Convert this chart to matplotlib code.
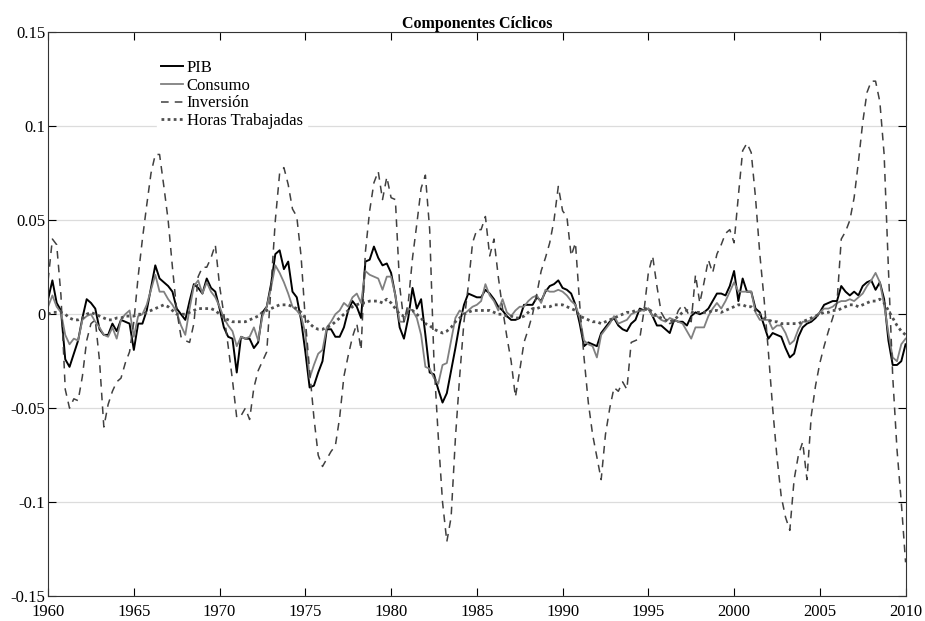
import numpy as np
import matplotlib
matplotlib.use("Agg")
import matplotlib.pyplot as plt
from matplotlib.ticker import FuncFormatter

plt.rcParams['font.family'] = ['Liberation Serif', 'DejaVu Serif']
plt.rcParams['axes.unicode_minus'] = False

# quarterly cyclical components, 1960Q1 .. 2010Q1 (one row per year)
pib = [
    0.008, 0.018, 0.006, 0.002,
    -0.024, -0.028, -0.021, -0.014,
    -0.002, 0.008, 0.006, 0.003,
    -0.008, -0.011, -0.011, -0.005,
    -0.009, -0.003, -0.004, -0.005,
    -0.019, -0.005, -0.005, 0.002,
    0.014, 0.026, 0.019, 0.017,
    0.015, 0.012, 0.003, 0.000,
    -0.003, 0.007, 0.016, 0.014,
    0.011, 0.019, 0.014, 0.012,
    0.003, -0.007, -0.012, -0.013,
    -0.031, -0.012, -0.013, -0.013,
    -0.018, -0.015, 0.001, 0.004,
    0.016, 0.032, 0.034, 0.024,
    0.028, 0.012, 0.009, -0.003,
    -0.020, -0.039, -0.038, -0.031,
    -0.025, -0.008, -0.008, -0.012,
    -0.012, -0.007, 0.002, 0.007,
    0.004, -0.002, 0.028, 0.029,
    0.036, 0.030, 0.026, 0.027,
    0.022, 0.010, -0.007, -0.013,
    -0.002, 0.014, 0.003, 0.008,
    -0.011, -0.031, -0.032, -0.040,
    -0.047, -0.042, -0.030, -0.018,
    -0.005, 0.005, 0.011, 0.010,
    0.009, 0.009, 0.013, 0.011,
    0.008, 0.004, 0.002, -0.001,
    -0.003, -0.003, -0.002, 0.005,
    0.005, 0.005, 0.009, 0.007,
    0.012, 0.015, 0.016, 0.018,
    0.014, 0.013, 0.011, 0.005,
    -0.005, -0.017, -0.015, -0.016,
    -0.017, -0.010, -0.007, -0.004,
    -0.002, -0.006, -0.008, -0.009,
    -0.005, -0.003, 0.003, 0.002,
    0.003, -0.001, -0.006, -0.006,
    -0.008, -0.010, -0.003, -0.004,
    -0.004, -0.006, -0.001, 0.001,
    0.000, 0.001, 0.003, 0.007,
    0.011, 0.011, 0.010, 0.015,
    0.023, 0.007, 0.019, 0.012,
    0.012, 0.003, 0.001, -0.006,
    -0.013, -0.010, -0.011, -0.012,
    -0.018, -0.023, -0.021, -0.012,
    -0.007, -0.005, -0.004, -0.002,
    0.001, 0.005, 0.006, 0.007,
    0.007, 0.015, 0.012, 0.010,
    0.012, 0.010, 0.015, 0.017,
    0.018, 0.013, 0.017, 0.008,
    -0.014, -0.027, -0.027, -0.025,
    -0.016,
]

consumo = [
    0.004, 0.010, 0.004, 0.001,
    -0.011, -0.016, -0.013, -0.014,
    -0.003, -0.001, 0.000, -0.004,
    -0.007, -0.011, -0.012, -0.007,
    -0.013, -0.003, 0.000, 0.002,
    -0.012, -0.001, 0.000, 0.005,
    0.013, 0.021, 0.012, 0.012,
    0.008, 0.005, 0.001, -0.006,
    -0.011, 0.003, 0.015, 0.018,
    0.011, 0.017, 0.012, 0.009,
    0.004, -0.002, -0.006, -0.009,
    -0.017, -0.012, -0.013, -0.012,
    -0.007, -0.014, -0.001, 0.004,
    0.014, 0.026, 0.022, 0.017,
    0.011, 0.004, 0.002, -0.001,
    -0.010, -0.034, -0.027, -0.021,
    -0.019, -0.007, -0.004, 0.000,
    0.002, 0.006, 0.004, 0.009,
    0.011, 0.006, 0.023, 0.021,
    0.020, 0.019, 0.013, 0.020,
    0.020, 0.010, -0.004, -0.004,
    0.003, 0.002, -0.002, -0.011,
    -0.028, -0.029, -0.034, -0.037,
    -0.027, -0.026, -0.014, -0.002,
    0.002, 0.000, 0.002, 0.004,
    0.005, 0.007, 0.016, 0.010,
    0.007, 0.002, 0.008, 0.001,
    -0.001, 0.002, 0.004, 0.004,
    0.007, 0.009, 0.010, 0.006,
    0.013, 0.012, 0.012, 0.013,
    0.012, 0.010, 0.007, 0.005,
    -0.002, -0.014, -0.016, -0.017,
    -0.023, -0.011, -0.008, -0.005,
    -0.001, -0.005, -0.004, -0.003,
    0.000, 0.001, 0.002, 0.002,
    0.003, -0.001, -0.001, -0.003,
    -0.004, -0.002, -0.003, -0.004,
    -0.005, -0.009, -0.013, -0.007,
    -0.007, -0.007, -0.001, 0.003,
    0.006, 0.003, 0.007, 0.012,
    0.017, 0.012, 0.012, 0.012,
    0.012, 0.001, -0.003, -0.003,
    -0.003, -0.008, -0.006, -0.006,
    -0.010, -0.016, -0.014, -0.008,
    -0.004, -0.004, -0.003, -0.001,
    0.001, 0.003, 0.003, 0.004,
    0.006, 0.007, 0.007, 0.008,
    0.007, 0.009, 0.011, 0.015,
    0.018, 0.022, 0.017, 0.005,
    -0.010, -0.023, -0.025, -0.016,
    -0.013,
]

inversion = [
    0.018, 0.040, 0.037, 0.010,
    -0.040, -0.050, -0.045, -0.046,
    -0.033, -0.014, -0.005, -0.003,
    -0.025, -0.060, -0.048, -0.041,
    -0.036, -0.034, -0.026, -0.020,
    -0.004, 0.020, 0.040, 0.058,
    0.075, 0.085, 0.085, 0.068,
    0.050, 0.025, 0.002, -0.012,
    -0.014, -0.015, -0.005, 0.020,
    0.025, 0.025, 0.030, 0.037,
    0.015, 0.000, -0.017, -0.035,
    -0.055, -0.054, -0.050, -0.056,
    -0.039, -0.030, -0.025, -0.020,
    0.015, 0.050, 0.075, 0.078,
    0.069, 0.056, 0.052, 0.031,
    -0.003, -0.030, -0.055, -0.075,
    -0.081, -0.077, -0.073, -0.070,
    -0.055, -0.033, -0.022, -0.012,
    -0.005, -0.019, 0.033, 0.055,
    0.070, 0.076, 0.061, 0.073,
    0.062, 0.061, 0.015, -0.004,
    0.006, 0.030, 0.048, 0.067,
    0.074, 0.045, -0.025, -0.065,
    -0.100, -0.121, -0.108, -0.066,
    -0.033, -0.004, 0.015, 0.038,
    0.045, 0.045, 0.052, 0.031,
    0.040, 0.020, 0.003, -0.012,
    -0.025, -0.044, -0.030, -0.015,
    -0.008, 0.000, 0.011, 0.023,
    0.030, 0.038, 0.050, 0.068,
    0.055, 0.052, 0.031, 0.038,
    0.005, -0.023, -0.047, -0.064,
    -0.076, -0.088, -0.064, -0.050,
    -0.039, -0.041, -0.036, -0.040,
    -0.015, -0.014, -0.013, 0.002,
    0.022, 0.031, 0.015, 0.001,
    -0.003, -0.005, -0.004, 0.002,
    0.005, 0.002, -0.004, 0.021,
    0.006, 0.017, 0.029, 0.022,
    0.032, 0.037, 0.043, 0.045,
    0.038, 0.063, 0.087, 0.091,
    0.086, 0.062, 0.032, 0.008,
    -0.020, -0.050, -0.076, -0.097,
    -0.108, -0.115, -0.088, -0.075,
    -0.068, -0.088, -0.054, -0.038,
    -0.026, -0.017, -0.009, -0.002,
    0.006, 0.040, 0.044, 0.050,
    0.062, 0.081, 0.102, 0.118,
    0.124, 0.124, 0.113, 0.085,
    0.024, -0.033, -0.072, -0.100,
    -0.132,
]

horas = [
    0.000, 0.001, 0.001, 0.001,
    0.000, -0.002, -0.003, -0.003,
    -0.002, 0.000, 0.001, 0.000,
    -0.001, -0.002, -0.003, -0.003,
    -0.002, -0.002, -0.001, -0.001,
    -0.001, 0.000, 0.000, 0.001,
    0.002, 0.003, 0.004, 0.005,
    0.004, 0.002, 0.000, 0.000,
    0.000, 0.001, 0.002, 0.003,
    0.003, 0.003, 0.003, 0.002,
    0.000, -0.002, -0.003, -0.004,
    -0.004, -0.004, -0.004, -0.003,
    -0.002, -0.001, 0.001, 0.002,
    0.003, 0.004, 0.005, 0.005,
    0.005, 0.004, 0.003, 0.001,
    -0.002, -0.005, -0.007, -0.008,
    -0.008, -0.007, -0.006, -0.004,
    -0.002, 0.000, 0.002, 0.004,
    0.005, 0.006, 0.006, 0.007,
    0.007, 0.007, 0.006, 0.008,
    0.006, 0.003, 0.000, -0.001,
    0.001, 0.002, 0.000, -0.002,
    -0.005, -0.006, -0.008, -0.009,
    -0.010, -0.009, -0.007, -0.004,
    -0.002, 0.000, 0.001, 0.002,
    0.002, 0.002, 0.002, 0.002,
    0.001, 0.000, 0.000, -0.001,
    -0.001, -0.002, -0.002, -0.001,
    0.001, 0.003, 0.003, 0.004,
    0.004, 0.004, 0.005, 0.005,
    0.005, 0.004, 0.003, 0.002,
    -0.001, -0.002, -0.003, -0.004,
    -0.004, -0.005, -0.004, -0.003,
    -0.002, -0.001, 0.000, 0.001,
    0.001, 0.002, 0.002, 0.003,
    0.003, 0.001, -0.001, -0.002,
    -0.003, -0.004, -0.003, -0.001,
    0.001, 0.002, 0.001, 0.001,
    0.001, 0.001, 0.001, 0.002,
    0.002, 0.001, 0.002, 0.003,
    0.004, 0.005, 0.005, 0.004,
    0.004, 0.002, 0.000, -0.002,
    -0.003, -0.004, -0.004, -0.005,
    -0.005, -0.005, -0.005, -0.005,
    -0.004, -0.003, -0.002, -0.001,
    0.000, 0.001, 0.001, 0.002,
    0.002, 0.003, 0.004, 0.005,
    0.005, 0.004, 0.005, 0.006,
    0.007, 0.007, 0.008, 0.006,
    0.002, -0.002, -0.006, -0.009,
    -0.011,
]

fechas = 1960 + np.arange(len(pib)) / 4.0
x_ticks = np.arange(1960, 2011, 5)
y_ticks = [-0.15, -0.1, -0.05, 0, 0.05, 0.1, 0.15]

fig = plt.figure(figsize=(9.25, 6.21), dpi=100)
ax = fig.add_axes([0.052, 0.040, 0.927, 0.908])

ax.plot(fechas, pib, color='black', lw=1.4, label='PIB')
ax.plot(fechas, consumo, color='#808080', lw=1.3, label='Consumo')
ax.plot(fechas, inversion, color='#404040', lw=1.1, ls=(0, (5, 4)), label='Inversión')
ax.plot(fechas, horas, color='#505050', lw=2.0, ls=(0, (1, 1.2)), label='Horas Trabajadas')

ax.set_xlim(1960, 2010)
ax.set_ylim(-0.15, 0.15)
ax.set_xticks(x_ticks)
ax.set_yticks(y_ticks)
ax.yaxis.set_major_formatter(FuncFormatter(lambda v, p: '%g' % round(v, 3)))
ax.yaxis.grid(True, color='#dcdcdc', lw=0.9)
ax.set_axisbelow(True)
ax.tick_params(direction='in', top=True, right=True, labelsize=12, length=5.5, width=0.8)
ax.tick_params(axis='x', pad=6)
ax.tick_params(axis='y', pad=2)
for s in ax.spines.values():
    s.set_linewidth(0.8)
    s.set_color('#333333')

ax.set_title('Componentes Cíclicos', fontsize=11.5, fontweight='bold', pad=3)

leg = ax.legend(loc='upper left', bbox_to_anchor=(0.117, 0.973), frameon=True,
                fontsize=12, handlelength=1.3, handletextpad=0.25,
                labelspacing=0.1, borderpad=0.25, fancybox=False)
leg.get_frame().set_edgecolor('white')
leg.get_frame().set_facecolor('white')
leg.get_frame().set_alpha(1)

fig.savefig('out.png', dpi=100)
